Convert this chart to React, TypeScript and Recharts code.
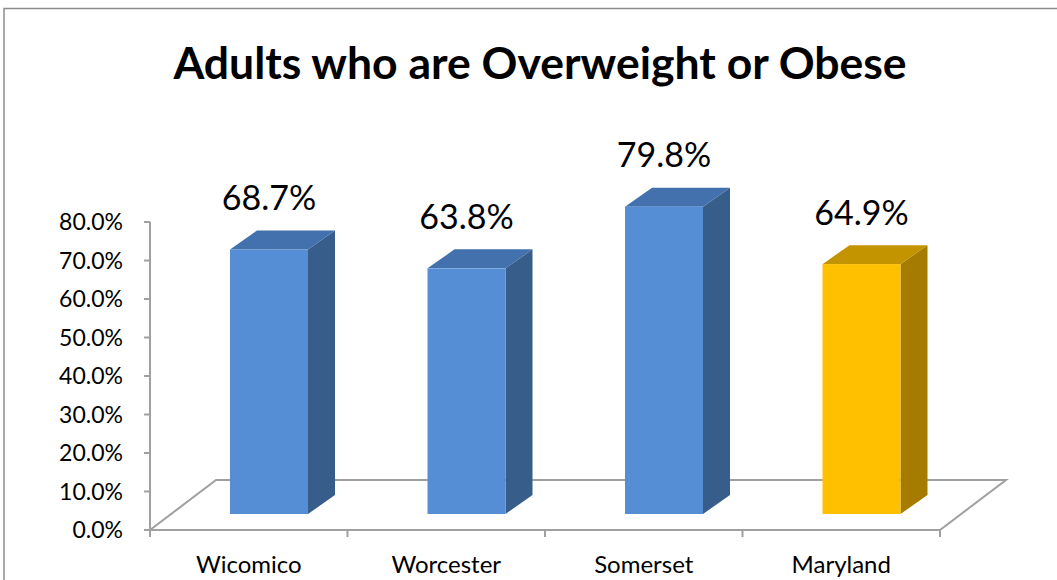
import React from 'react';
import { BarChart, Bar, XAxis, YAxis, Cell, LabelList } from 'recharts';

const categories = ['Wicomico', 'Worcester', 'Somerset', 'Maryland'];
const values = [68.7, 63.8, 79.8, 64.9];
const yTicks = [0, 10, 20, 30, 40, 50, 60, 70, 80];
const title = 'Adults who are Overweight or Obese';

const data = categories.map((name, i) => ({ name, value: values[i] }));

const W = 1057;
const H = 580;
const MARGIN = { top: 222, right: 117, bottom: 20, left: 70 };
const Y_AXIS_W = 80;
const X_AXIS_H = 30;
const PLOT_L = MARGIN.left + Y_AXIS_W;
const PLOT_R = W - MARGIN.right;
const PLOT_B = H - MARGIN.bottom - X_AXIS_H;

// 3D projection parameters
const FLOOR_DX = 66;
const FLOOR_DY = 50;
const FRONT_DX = 20;
const FRONT_DY = 16;
const DEPTH_DX = 27;
const DEPTH_DY = 19;

const FONT = 'Lato, "Open Sans", sans-serif';

const palette = {
  blue: { front: '#558ED5', top: '#4271AE', side: '#375D8B' },
  gold: { front: '#FFC000', top: '#C39300', side: '#A57C00' },
};

const colorFor = (i: number) => (i === 3 ? palette.gold : palette.blue);

const Bar3D = (props: any) => {
  const { x, y, width, height, index } = props;
  const c = colorFor(index);
  const fx = x + FRONT_DX;
  const fy = y - FRONT_DY;
  const fb = fy + height;
  const top = `${fx},${fy} ${fx + DEPTH_DX},${fy - DEPTH_DY} ${fx + width + DEPTH_DX},${fy - DEPTH_DY} ${fx + width},${fy}`;
  const side = `${fx + width},${fy} ${fx + width + DEPTH_DX},${fy - DEPTH_DY} ${fx + width + DEPTH_DX},${fb - DEPTH_DY} ${fx + width},${fb}`;
  return (
    <g>
      <polygon points={side} fill={c.side} />
      <polygon points={top} fill={c.top} />
      <rect x={fx} y={fy} width={width} height={height} fill={c.front} />
    </g>
  );
};

const ValueLabel = (props: any) => {
  const { x, y, width, value } = props;
  return (
    <text
      x={x + FRONT_DX + width / 2}
      y={y - FRONT_DY - DEPTH_DY - 34}
      textAnchor="middle"
      dominantBaseline="central"
      fontFamily={FONT}
      fontSize={34}
      fill="#000"
    >
      {`${Number(value).toFixed(1)}%`}
    </text>
  );
};

const Floor = () => {
  const n = categories.length;
  const band = (PLOT_R - PLOT_L) / n;
  const ticks = Array.from({ length: n + 1 }, (_, i) => PLOT_L + i * band);
  const stroke = '#A0A0A0';
  return (
    <g>
      <polyline
        points={`${PLOT_L},${PLOT_B} ${PLOT_L + FLOOR_DX},${PLOT_B - FLOOR_DY} ${PLOT_R + FLOOR_DX},${PLOT_B - FLOOR_DY} ${PLOT_R},${PLOT_B} ${PLOT_L},${PLOT_B}`}
        fill="none"
        stroke={stroke}
        strokeWidth={2}
      />
      {ticks.map((tx, i) => (
        <line key={i} x1={tx} y1={PLOT_B} x2={tx} y2={PLOT_B + 7} stroke={stroke} strokeWidth={2} />
      ))}
    </g>
  );
};

export default function App() {
  return (
    <div style={{ position: 'absolute', left: 0, top: 0, width: W, height: H, background: '#fff', overflow: 'hidden' }}>
      <svg width={W} height={H} style={{ position: 'absolute', left: 0, top: 0 }}>
        <rect x={4} y={8.5} width={W + 20} height={H + 20} fill="#fff" stroke="#8C8C8C" strokeWidth={1.5} />
        <text
          x={540}
          y={61}
          textAnchor="middle"
          dominantBaseline="central"
          fontFamily={FONT}
          fontWeight="bold"
          fontSize={44.5}
          fill="#000"
        >
          {title}
        </text>
        <Floor />
      </svg>
      <div style={{ position: 'absolute', left: 0, top: 0 }}>
        <BarChart width={W} height={H} data={data} margin={MARGIN} barSize={78}>
          <XAxis
            dataKey="name"
            height={X_AXIS_H}
            axisLine={false}
            tickLine={false}
            tick={{ fontFamily: FONT, fontSize: 24, fill: '#000' }}
            tickMargin={20}
            interval={0}
          />
          <YAxis
            width={Y_AXIS_W}
            domain={[0, 80]}
            ticks={yTicks}
            tickFormatter={(v: number) => `${v.toFixed(1)}%`}
            axisLine={{ stroke: '#A0A0A0', strokeWidth: 2 }}
            tickLine={{ stroke: '#A0A0A0', strokeWidth: 2 }}
            tickSize={6}
            tickMargin={21}
            tick={{ fontFamily: FONT, fontSize: 23, fill: '#000' }}
            interval={0}
          />
          <Bar dataKey="value" shape={<Bar3D />} isAnimationActive={false}>
            {data.map((_, i) => (
              <Cell key={i} fill={colorFor(i).front} />
            ))}
            <LabelList dataKey="value" content={<ValueLabel />} />
          </Bar>
        </BarChart>
      </div>
    </div>
  );
}
